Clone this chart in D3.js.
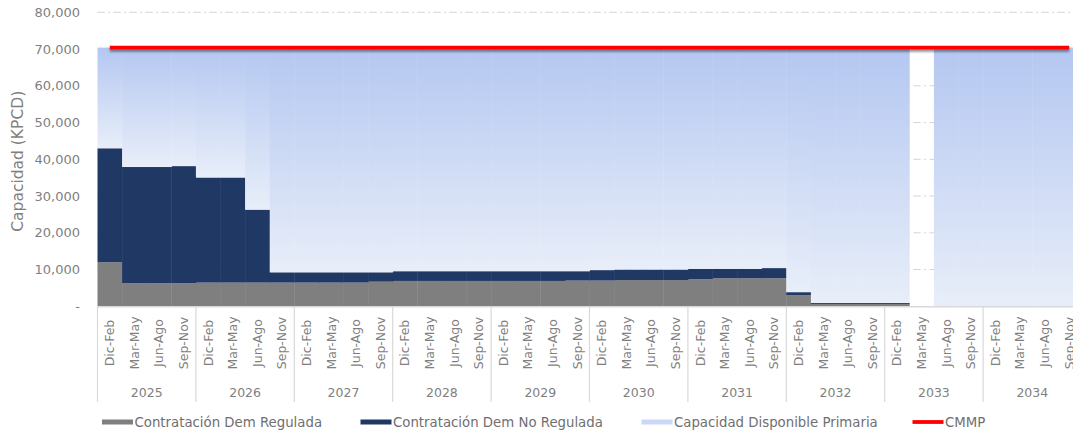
<!DOCTYPE html>
<html>
<head>
<meta charset="utf-8">
<script src="https://cdn.jsdelivr.net/npm/d3@7"></script>
<style>
  html, body { margin: 0; padding: 0; background: #fff; }
  svg { display: block; font-family: "DejaVu Sans", sans-serif; }
</style>
</head>
<body>
<svg id="chart" width="1073" height="434"></svg>
<script>
// Periods within each year and the years shown on the axis
const periods = ["Dic-Feb", "Mar-May", "Jun-Ago", "Sep-Nov"];
const years = ["2025", "2026", "2027", "2028", "2029", "2030", "2031", "2032", "2033", "2034"];

// Contracted capacity, regulated demand (KPCD)
const regulada = [
  12000, 6300, 6300, 6300,
  6450, 6450, 6450, 6450,
  6450, 6450, 6450, 6700,
  6900, 6900, 6900, 6900,
  6900, 6900, 6900, 7000,
  7000, 7150, 7150, 7150,
  7400, 7650, 7650, 7650,
  3000, 650, 650, 650,
  650, null, 0, 0,
  0, 0, 0, 0
];

// Contracted capacity, non-regulated demand (KPCD)
const noRegulada = [
  31000, 31600, 31600, 31850,
  28600, 28600, 19850, 2800,
  2800, 2800, 2800, 2550,
  2650, 2650, 2650, 2650,
  2650, 2650, 2650, 2550,
  2850, 2850, 2850, 2850,
  2800, 2550, 2550, 2750,
  850, 250, 250, 250,
  250, null, 0, 0,
  0, 0, 0, 0
];

// Primary available capacity (KPCD)
const capacidad = [
  27400, 32500, 32500, 32250,
  35350, 35350, 44100, 61150,
  61150, 61150, 61150, 61150,
  60850, 60850, 60850, 60850,
  60850, 60850, 60850, 60850,
  60550, 60400, 60400, 60400,
  60200, 60200, 60200, 60000,
  66550, 69500, 69500, 69500,
  69500, null, 70400, 70400,
  70400, 70400, 70400, 70400
];

// CMMP (KPCD)
const cmmp = [
  70400, 70400, 70400, 70400, 70400, 70400, 70400, 70400, 70400, 70400,
  70400, 70400, 70400, 70400, 70400, 70400, 70400, 70400, 70400, 70400,
  70400, 70400, 70400, 70400, 70400, 70400, 70400, 70400, 70400, 70400,
  70400, 70400, 70400, 70400, 70400, 70400, 70400, 70400, 70400, 70400
];

const yTicks = [0, 10000, 20000, 30000, 40000, 50000, 60000, 70000, 80000];

const seriesNames = ["Contratación Dem Regulada", "Contratación Dem No Regulada", "Capacidad Disponible Primaria", "CMMP"];

// Build category keys (year + period) and row objects for stacking
const categories = [];
years.forEach(yr => periods.forEach(p => categories.push(yr + "|" + p)));
const rows = categories.map((c, i) => ({
  cat: c,
  reg: regulada[i] ?? 0,
  noreg: noRegulada[i] ?? 0,
  cap: capacidad[i] ?? 0,
  cmmp: cmmp[i]
}));

const svg = d3.select("#chart");
const W = 1073, H = 434;
const plotLeft = 97.5, plotRight = 1081.5, plotTop = 12.3, plotBottom = 306.3;

const x = d3.scaleBand().domain(categories).range([plotLeft, plotRight]).paddingInner(0).paddingOuter(0);
const y = d3.scaleLinear().domain([0, 80000]).range([plotBottom, plotTop]);

const textColor = "#7f7f7f";
const gridColor = "#d4d4d4";
const colors = { reg: "#7f7f7f", noreg: "#203864", capTop: "#b4c7f1", capBottom: "#e8eef9", cmmp: "#ff0000" };

const defs = svg.append("defs");
const shadow = defs.append("filter").attr("id", "lineShadow")
  .attr("filterUnits", "userSpaceOnUse")
  .attr("x", 0).attr("y", 0).attr("width", W).attr("height", H);
shadow.append("feDropShadow").attr("dx", 0).attr("dy", 2.2).attr("stdDeviation", 1.3)
  .attr("flood-color", "#000").attr("flood-opacity", 0.45);

// Vertical gradient for the available-capacity columns
const grad = defs.append("linearGradient").attr("id", "capGrad")
  .attr("x1", 0).attr("y1", 0).attr("x2", 0).attr("y2", 1);
grad.append("stop").attr("offset", "0%").attr("stop-color", colors.capTop);
grad.append("stop").attr("offset", "100%").attr("stop-color", colors.capBottom);

// Dash-dot gridlines
svg.append("g").selectAll("line")
  .data(yTicks.filter(d => d > 0))
  .join("line")
  .attr("x1", plotLeft).attr("x2", W)
  .attr("y1", d => y(d)).attr("y2", d => y(d))
  .attr("stroke", gridColor).attr("stroke-width", 1)
  .attr("stroke-dasharray", "7,3.5,2,3.5");

// Stacked columns
const stack = d3.stack().keys(["reg", "noreg", "cap"]);
const stacked = stack(rows);
const gBars = svg.append("g");
stacked.forEach(layer => {
  const fill = layer.key === "cap" ? "url(#capGrad)" : colors[layer.key];
  gBars.append("g").selectAll("rect")
    .data(layer.filter(d => d[1] - d[0] > 0))
    .join("rect")
    .attr("x", d => x(d.data.cat))
    .attr("width", x.bandwidth() + 0.4)
    .attr("y", d => y(d[1]))
    .attr("height", d => y(d[0]) - y(d[1]))
    .attr("fill", fill);
});

// Category axis baseline
svg.append("line")
  .attr("x1", plotLeft).attr("x2", W)
  .attr("y1", y(0) + 0.5).attr("y2", y(0) + 0.5)
  .attr("stroke", "#d9d9d9").attr("stroke-width", 1.5);

// Year separators
const yearStarts = years.map(yr => x(yr + "|" + periods[0]));
svg.append("g").selectAll("line")
  .data(yearStarts.concat([plotRight]))
  .join("line")
  .attr("x1", d => d).attr("x2", d => d)
  .attr("y1", y(0) + 0.5).attr("y2", 402)
  .attr("stroke", "#d9d9d9").attr("stroke-width", 1.2);

// Period labels (rotated)
svg.append("g").selectAll("text")
  .data(categories)
  .join("text")
  .attr("transform", d => `translate(${x(d) + x.bandwidth() / 2},343) rotate(-90)`)
  .attr("text-anchor", "middle")
  .attr("dy", "0.35em")
  .attr("font-size", 12.5)
  .attr("fill", textColor)
  .text(d => d.split("|")[1]);

// Year labels
svg.append("g").selectAll("text")
  .data(years)
  .join("text")
  .attr("x", yr => x(yr + "|" + periods[0]) + x.bandwidth() * 2)
  .attr("y", 393)
  .attr("dy", "0.35em")
  .attr("text-anchor", "middle")
  .attr("font-size", 12.5)
  .attr("fill", textColor)
  .text(d => d);

// Value axis labels
const fmt = d3.format(",");
svg.append("g").selectAll("text")
  .data(yTicks)
  .join("text")
  .attr("x", 80)
  .attr("y", d => y(d))
  .attr("dy", "0.35em")
  .attr("text-anchor", "end")
  .attr("font-size", 13)
  .attr("fill", textColor)
  .text(d => d === 0 ? "-" : fmt(d));

// Value axis title
svg.append("text")
  .attr("transform", `translate(18,${(plotTop + plotBottom) / 2 + 2}) rotate(-90)`)
  .attr("text-anchor", "middle")
  .attr("dy", "0.35em")
  .attr("font-size", 15.5)
  .attr("fill", textColor)
  .text("Capacidad (KPCD)");

// CMMP line
const line = d3.line()
  .x((d, i) => x(categories[i]) + x.bandwidth() / 2)
  .y(d => y(d));
svg.append("path")
  .datum(cmmp)
  .attr("d", line)
  .attr("fill", "none")
  .attr("stroke", colors.cmmp)
  .attr("stroke-width", 3.8)
  .attr("filter", "url(#lineShadow)");

// Legend
const legend = svg.append("g").attr("font-size", 13.3).attr("fill", "#6f6f6f");
const legendItems = [
  { name: seriesNames[0], x: 102, type: "rect", fill: colors.reg },
  { name: seriesNames[1], x: 360.5, type: "rect", fill: colors.noreg },
  { name: seriesNames[2], x: 641.5, type: "rect", fill: "#cbd8f5" },
  { name: seriesNames[3], x: 912.5, type: "line", fill: colors.cmmp }
];
legendItems.forEach(it => {
  if (it.type === "rect") {
    legend.append("rect").attr("x", it.x).attr("y", 419.5).attr("width", 31).attr("height", 5).attr("fill", it.fill);
  } else {
    legend.append("line").attr("x1", it.x).attr("x2", it.x + 31).attr("y1", 422).attr("y2", 422)
      .attr("stroke", it.fill).attr("stroke-width", 3.8);
  }
  legend.append("text").attr("x", it.x + 32.5).attr("y", 422).attr("dy", "0.35em").text(it.name);
});
</script>
</body>
</html>
